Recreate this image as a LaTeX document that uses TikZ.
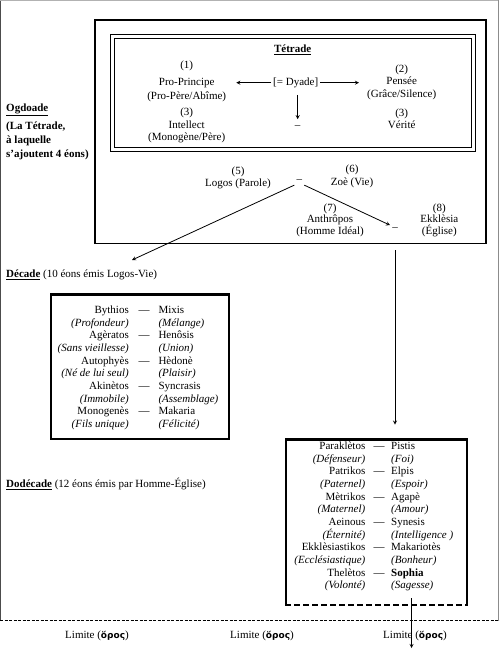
\documentclass[tikz,border=0pt]{standalone}
\usepackage{fontspec}
\setmainfont{Liberation Serif}
\newfontfamily\grec{DejaVu Sans}
\usepackage{tikz}
\usetikzlibrary{shapes,arrows,positioning}
\tikzstyle{eon} = [align=center,inner sep=2pt,font=\fontsize{11}{12.5}\selectfont]
\tikzstyle{tiret} = [inner sep=2pt]
\tikzstyle{boite} = [rectangle,draw=black,line width=2.3pt,outer sep=0pt]
\tikzstyle{titre} = [anchor=base west,inner sep=0pt,font=\fontsize{11}{14}\selectfont\bfseries]
\tikzstyle{legende} = [anchor=base west,inner sep=0pt]
\tikzstyle{colonne} = [inner sep=0pt,font=\fontsize{11}{12.65}\selectfont]
\tikzstyle{colg} = [colonne,anchor=north east,align=right]
\tikzstyle{colm} = [colonne,anchor=north,align=center]
\tikzstyle{cold} = [colonne,anchor=north west,align=left]
\tikzstyle{limite} = [anchor=base,inner sep=0pt]
\tikzstyle{arrow} = [line width=0.8pt,->,>=stealth]

\begin{document}
\begin{tikzpicture}[x=1pt,y=-1pt,font=\fontsize{11}{13.5}\selectfont]
\useasboundingbox (0,0) rectangle (500,653);
% cadre exterieur
\draw [line width=1.2pt,black!70] (0.8,0) -- (0.8,620.7);
\draw [line width=1.2pt,black!30] (0,0.8) -- (499,0.8);
\draw [line width=1.2pt,black!45] (498.4,0) -- (498.4,620.7);
\draw [line width=1pt,dash pattern=on 3pt off 1.5pt] (0,620.7) -- (500,620.7);

% boites
\node (ogd) [boite,line width=1.6pt,minimum width=390.8pt,minimum height=223.5pt] at (290.5,131.8) {};
\node (tet) [rectangle,draw,double,line width=1pt,double distance=3.3pt,minimum width=361pt,minimum height=112.8pt] at (293,92.9) {};
\node (dec) [boite,minimum width=177.6pt,minimum height=144.3pt] at (140,366.7) {};
\node (dod) [boite,draw=none,minimum width=180.8pt,minimum height=165.5pt] at (376.6,522.3) {};
\draw [line width=2.3pt] (dod.south west) -- (dod.north west) -- (dod.north east) -- (dod.south east);
\draw [line width=2.3pt,dash pattern=on 6pt off 3pt] ([xshift=-1.15pt]dod.south west) -- ([xshift=1.15pt]dod.south east);

% Tetrade
\node (titre) [anchor=base] at (292.7,52.8) {\underline{\textbf{Tétrade}}};
\node (proprincipe) [eon,font=\fontsize{11}{14}\selectfont] at (186.7,81.2) {(1)\\[3pt]Pro-Principe\\(Pro-Père/Abîme)};
\node (dyade) [eon] at (295.7,82.7) {[= Dyade]};
\node (pensee) [eon] at (401.7,82.2) {(2)\\Pensée\\(Grâce/Silence)};
\node (intellect) [eon,font=\fontsize{11}{12.8}\selectfont] at (186.7,125.5) {(3)\\Intellect\\(Monogène/Père)};
\node (tiretT) [tiret] at (297.7,127.5) {–};
\node (verite) [eon] at (401.7,118.9) {(3)\\Vérité};

% Ogdoade
\node (logos) [eon] at (238,177.8) {(5)\\Logos (Parole)};
\node (tiretL) [tiret] at (299.3,181.5) {–};
\node (zoe) [eon] at (352,176.2) {(6)\\Zoè (Vie)};
\node (anthropos) [eon,font=\fontsize{11}{11.7}\selectfont] at (330,220.3) {(7)\\Anthrôpos\\(Homme Idéal)};
\node (tiretA) [tiret] at (395,228.8) {–};
\node (ekklesia) [eon,font=\fontsize{11}{11.7}\selectfont] at (439.3,220.3) {(8)\\Ekklèsia\\(Église)};
\coordinate (decTip) at (132,260);
\coordinate (limTip) at (411.5,648);

% legendes a gauche
\node (ogdoade) [titre] at (6,111) {\underline{Ogdoade}};
\node (ogdnote) [titre,anchor=west,align=left] at (6,141) {(La Tétrade,\\à laquelle\\s'ajoutent 4 éons)};
\node (decade) [legende] at (6,277.5) {\underline{\textbf{Décade}} (10 éons émis Logos-Vie)};
\node (dodecade) [legende] at (6,487.5) {\underline{\textbf{Dodécade}} (12 éons émis par Homme-Église)};

% Decade
\node (decg) [colg] at (129,304.6) {\strut Bythios\\\textit{(Profondeur)}\\Agèratos\\\textit{(Sans vieillesse)}\\Autophyès\\\textit{(Né de lui seul)}\\Akinètos\\\textit{(Immobile)}\\Monogenès\\\textit{(Fils unique)}};
\node (decm) [colm] at (144.2,304.6) {\strut —\\~\\—\\~\\—\\~\\—\\~\\—};
\node (decd) [cold] at (158.3,304.6) {\strut Mixis\\\textit{(Mélange)}\\Henôsis\\\textit{(Union)}\\Hèdonè\\\textit{(Plaisir)}\\Syncrasis\\\textit{(Assemblage)}\\Makaria\\\textit{(Félicité)}};

% Dodecade
\node (dodg) [colg] at (365.5,440.6) {\strut Paraklètos\\\textit{(Défenseur)}\\Patrikos\\\textit{(Paternel)}\\Mètrikos\\\textit{(Maternel)}\\Aeinous\\\textit{(Éternité)}\\Ekklèsiastikos\\\textit{(Ecclésiastique)}\\Thelètos\\\textit{(Volonté)}};
\node (dodm) [colm] at (379,440.6) {\strut —\\~\\—\\~\\—\\~\\—\\~\\—\\~\\—};
\node (dodd) [cold] at (391,440.6) {\strut Pistis\\\textit{(Foi)}\\Elpis\\\textit{(Espoir)}\\Agapè\\\textit{(Amour)}\\Synesis\\\textit{(Intelligence )}\\Makariotès\\\textit{(Bonheur)}\\\textbf{Sophia}\\\textit{(Sagesse)}};

% Limite
\node (lim1) [limite] at (97,638.5) {Limite (\textbf{\grec\fontsize{9}{10}\selectfont ὅρος})};
\node (lim2) [limite] at (262,638.5) {Limite (\textbf{\grec\fontsize{9}{10}\selectfont ὅρος})};
\node (lim3) [limite] at (415,638.5) {Limite (\textbf{\grec\fontsize{9}{10}\selectfont ὅρος})};

\draw [arrow,shorten >=8pt] (dyade.west) -- (dyade.west -| proprincipe.east);
\draw [arrow,shorten >=6pt] (dyade.east) -- (dyade.east -| pensee.west);
\draw [arrow,shorten <=5pt,shorten >=4.7pt] (dyade.south -| tiretT) -- (tiretT.north);
\draw [arrow] (tiretL.south west) -- (decTip);
\draw [arrow] (tiretL.south east) -- (tiretA.north west);
\draw [arrow] ([yshift=-6.5pt]ogd.south -| tiretA) -- ([yshift=15pt]dod.north -| tiretA);
\draw [arrow] ([yshift=7pt]dod.south -| limTip) -- (limTip);
\end{tikzpicture}
\end{document}
